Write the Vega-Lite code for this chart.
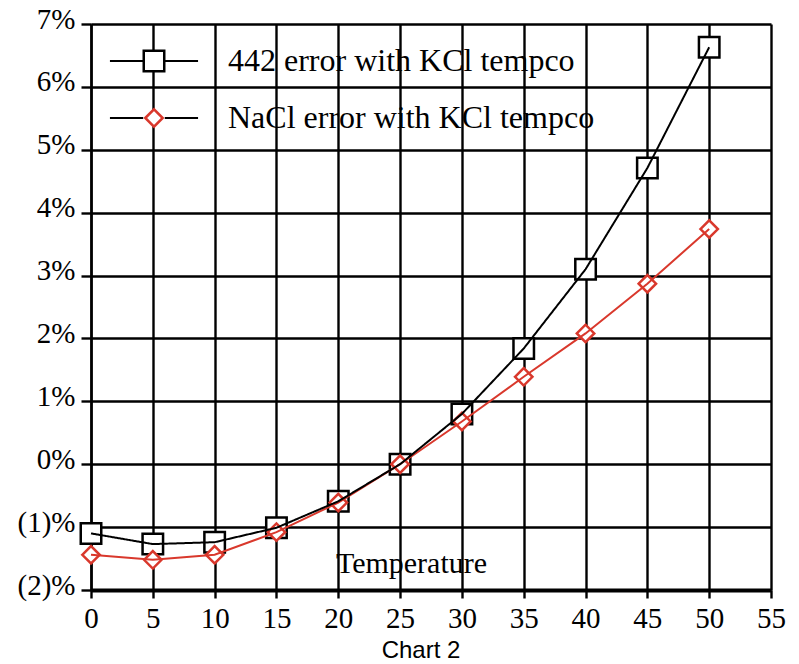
{
  "$schema": "https://vega.github.io/schema/vega-lite/v6.json",
  "width": 680,
  "height": 566,
  "autosize": {"type": "none"},
  "padding": {"left": 91, "top": 24, "right": 28, "bottom": 74},
  "background": "white",
  "title": {"text": "Chart 2", "orient": "bottom", "font": "Liberation Sans", "fontSize": 24, "fontWeight": "normal", "color": "black", "offset": 6, "dx": -10, "anchor": "middle"},
  "config": {
    "view": {"stroke": null},
    "axis": {
      "grid": true, "gridColor": "black", "gridOpacity": 1, "gridWidth": 2.4,
      "domainColor": "black", "tickColor": "black", "tickWidth": 2.4,
      "labelFont": "Liberation Serif", "labelColor": "black", "labelFontSize": 29,
      "titleFont": "Liberation Serif", "titleColor": "black", "titleFontSize": 30, "titleFontWeight": "normal"
    }
  },
  "data": {"values": [
    {"series": "442 error with KCl tempco", "temp": 0, "err": -1.10},
    {"series": "442 error with KCl tempco", "temp": 5, "err": -1.27},
    {"series": "442 error with KCl tempco", "temp": 10, "err": -1.24},
    {"series": "442 error with KCl tempco", "temp": 15, "err": -1.01},
    {"series": "442 error with KCl tempco", "temp": 20, "err": -0.59},
    {"series": "442 error with KCl tempco", "temp": 25, "err": 0.0},
    {"series": "442 error with KCl tempco", "temp": 30, "err": 0.80},
    {"series": "442 error with KCl tempco", "temp": 35, "err": 1.84},
    {"series": "442 error with KCl tempco", "temp": 40, "err": 3.10},
    {"series": "442 error with KCl tempco", "temp": 45, "err": 4.71},
    {"series": "442 error with KCl tempco", "temp": 50, "err": 6.63},
    {"series": "NaCl error with KCl tempco", "temp": 0, "err": -1.44},
    {"series": "NaCl error with KCl tempco", "temp": 5, "err": -1.52},
    {"series": "NaCl error with KCl tempco", "temp": 10, "err": -1.44},
    {"series": "NaCl error with KCl tempco", "temp": 15, "err": -1.08},
    {"series": "NaCl error with KCl tempco", "temp": 20, "err": -0.61},
    {"series": "NaCl error with KCl tempco", "temp": 25, "err": 0.0},
    {"series": "NaCl error with KCl tempco", "temp": 30, "err": 0.68},
    {"series": "NaCl error with KCl tempco", "temp": 35, "err": 1.39},
    {"series": "NaCl error with KCl tempco", "temp": 40, "err": 2.08},
    {"series": "NaCl error with KCl tempco", "temp": 45, "err": 2.87},
    {"series": "NaCl error with KCl tempco", "temp": 50, "err": 3.74}
  ]},
  "encoding": {
    "x": {
      "field": "temp", "type": "quantitative",
      "scale": {"domain": [0, 55], "nice": false, "zero": false},
      "axis": {
        "title": "Temperature", "values": [0, 5, 10, 15, 20, 25, 30, 35, 40, 45, 50, 55],
        "domainWidth": 4, "tickSize": 8, "labelPadding": 29, "labelBaseline": "alphabetic",
        "labelFont": "Liberation Serif", "labelFontSize": 29, "labelColor": "black",
        "labelFlush": false, "labelOverlap": false,
        "titleFont": "Liberation Serif", "titleFontSize": 30,
        "titleX": 320, "titleY": -18, "titleBaseline": "alphabetic", "titleAlign": "center", "titleAnchor": null
      }
    },
    "y": {
      "field": "err", "type": "quantitative",
      "scale": {"domain": [-2, 7], "nice": false, "zero": false},
      "axis": {
        "title": null, "values": [-2, -1, 0, 1, 2, 3, 4, 5, 6, 7],
        "domainWidth": 2.4, "tickSize": 10, "labelPadding": 6,
        "labelFont": "Liberation Serif", "labelFontSize": 29, "labelColor": "black",
        "labelBaseline": "alphabetic", "labelOffset": 4, "labelOverlap": false,
        "labelExpr": "datum.value < 0 ? '(' + (-datum.value) + ')%' : datum.value + '%'"
      }
    }
  },
  "layer": [
    {
      "mark": {"type": "point", "fill": "white", "fillOpacity": 1, "strokeWidth": 2.5, "size": 420},
      "encoding": {
        "stroke": {
          "field": "series", "type": "nominal",
          "scale": {"domain": ["442 error with KCl tempco", "NaCl error with KCl tempco"], "range": ["#000000", "#d9382c"]},
          "legend": {"title": null, "orient": "none", "legendX": 47, "legendY": 21, "padding": 0,
            "labelFont": "Liberation Serif", "labelFontSize": 32, "labelColor": "black", "labelOffset": 58, "labelLimit": 0,
            "symbolSize": 420, "symbolStrokeWidth": 2.5, "symbolFillColor": "white", "rowPadding": 25, "zindex": 2}
        },
        "shape": {
          "field": "series", "type": "nominal",
          "scale": {"domain": ["442 error with KCl tempco", "NaCl error with KCl tempco"], "range": ["square", "M-0.85,0L0,-0.85L0.85,0L0,0.85Z"]},
          "legend": {"title": null, "orient": "none", "legendX": 47, "legendY": 21, "padding": 0,
            "labelFont": "Liberation Serif", "labelFontSize": 32, "labelColor": "black", "labelOffset": 58, "labelLimit": 0,
            "symbolSize": 420, "symbolStrokeWidth": 2.5, "symbolFillColor": "white", "rowPadding": 25, "zindex": 2}
        }
      }
    },
    {
      "transform": [{"filter": "datum.series == 'NaCl error with KCl tempco'"}],
      "mark": {"type": "line", "strokeWidth": 2},
      "encoding": {
        "stroke": {"field": "series", "type": "nominal", "legend": null}
      }
    },
    {
      "transform": [{"filter": "datum.series == '442 error with KCl tempco'"}],
      "mark": {"type": "line", "strokeWidth": 2},
      "encoding": {
        "stroke": {"field": "series", "type": "nominal", "legend": null},
        "strokeDash": {
          "field": "series", "type": "nominal",
          "scale": {"domain": ["NaCl error with KCl tempco", "442 error with KCl tempco"], "range": [[1, 0], [1, 0]]},
          "legend": {"title": null, "orient": "none", "legendX": 47, "legendY": 21, "padding": 0,
            "labelFont": "Liberation Serif", "labelFontSize": 32, "labelExpr": "''", "labelOffset": 58, "labelLimit": 0,
            "symbolType": "M-4.3,0H-1.05M1.05,0H4.3", "symbolSize": 420, "symbolStrokeWidth": 2,
            "symbolStrokeColor": "black", "rowPadding": 25, "zindex": 1}
        }
      }
    }
  ]
}
